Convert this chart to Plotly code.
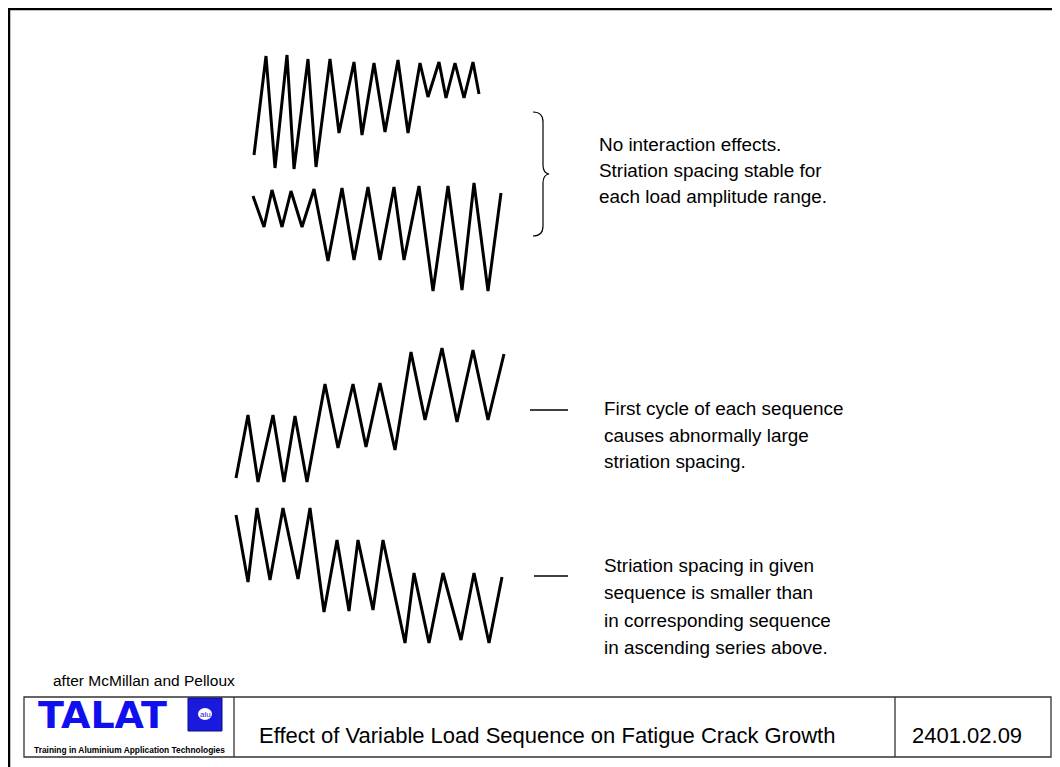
import math
import plotly.graph_objects as go

W, H = 1060, 767
OFF = 8  # the page body margin shifts the figure; axes are set so data = screen pixels

# zigzag vertices (screen pixels, y grows downward)
seq1_x = [254, 266, 275, 287, 294, 308, 316, 330, 339, 354, 362, 374, 385, 398, 408, 420, 428, 439, 446, 455, 464, 473, 479]
seq1_y = [155, 56, 168, 55, 169, 59, 167, 59, 133, 62, 135, 63, 132, 60, 133, 63, 97, 62, 98, 63, 98, 62, 94]

seq2_x = [253, 264, 272, 282, 291, 302, 314, 328, 342, 354, 368, 380, 394, 404, 419, 433, 448, 462, 474, 488, 501]
seq2_y = [196, 227, 190, 227, 191, 227, 189, 261, 188, 260, 187, 260, 187, 260, 186, 291, 186, 290, 183, 291, 193]

seq3_x = [236, 248, 258, 273, 284, 295, 307, 325, 338, 353, 366, 380, 395, 411, 425, 442, 457, 473, 488, 504]
seq3_y = [478, 415, 482, 415, 482, 416, 482, 384, 448, 384, 447, 383, 450, 352, 420, 348, 422, 350, 420, 354]

seq4_x = [236, 248, 257, 270, 283, 298, 310, 324, 337, 349, 358, 373, 383, 405, 414, 429, 443, 461, 474, 489, 502]
seq4_y = [515, 582, 508, 580, 508, 579, 508, 612, 540, 611, 540, 610, 540, 643, 573, 643, 573, 640, 573, 643, 577]

zigzags = [(seq1_x, seq1_y), (seq2_x, seq2_y), (seq3_x, seq3_y), (seq4_x, seq4_y)]

note1 = ["No interaction effects.", "Striation spacing stable for", "each load amplitude range."]
note1_y = [144, 170, 196]
note2 = ["First cycle of each sequence", "causes abnormally large", "striation spacing."]
note2_y = [408, 435, 461]
note3 = ["Striation spacing in given", "sequence is smaller than",
         "in corresponding sequence", "in ascending series above."]
note3_y = [565, 592, 620, 647]

fig = go.Figure()

for xs, ys in zigzags:
    fig.add_trace(go.Scatter(x=xs, y=ys, mode="lines",
                             line=dict(color="black", width=3),
                             hoverinfo="skip", showlegend=False))

# short marker dashes next to the lower two notes
fig.add_trace(go.Scatter(x=[530, 568], y=[410, 410], mode="lines",
                         line=dict(color="black", width=1.5), showlegend=False))
fig.add_trace(go.Scatter(x=[534, 568], y=[576, 576], mode="lines",
                         line=dict(color="black", width=1.5), showlegend=False))

# EU-style star ring on the logo
star_x = [205 + 11.5 * math.cos(2 * math.pi * k / 12) for k in range(12)]
star_y = [714 + 11.5 * math.sin(2 * math.pi * k / 12) for k in range(12)]

shapes = [
    # page frame
    dict(type="line", x0=8, x1=W + OFF, y0=9, y1=9, line=dict(color="black", width=2.5)),
    dict(type="line", x0=9, x1=9, y0=8, y1=H + OFF, line=dict(color="black", width=2.5)),
    # brace
    dict(type="path",
         path="M 533,112 Q 543,112 543,122 L 543,165 Q 543,173 549,174 "
              "Q 543,175 543,183 L 543,226 Q 543,236 533,236",
         line=dict(color="black", width=1.2)),
    # footer box
    dict(type="rect", x0=24, x1=1051, y0=697, y1=757, line=dict(color="#333", width=1.3)),
    dict(type="line", x0=234, x1=234, y0=697, y1=757, line=dict(color="#333", width=1.3)),
    dict(type="line", x0=895, x1=895, y0=697, y1=757, line=dict(color="#333", width=1.3)),
    # logo flag
    dict(type="rect", x0=188, x1=222, y0=698, y1=731, fillcolor="#1a1adc",
         line=dict(color="#0a0a80", width=1)),
    dict(type="circle", x0=198, x1=212, y0=708, y1=720, fillcolor="white",
         line=dict(width=0)),
]

fig.add_trace(go.Scatter(x=star_x, y=star_y, mode="markers",
                         marker=dict(symbol="star", size=5, color="#ffe000", line=dict(width=0)),
                         showlegend=False, hoverinfo="skip"))

annotations = []
for lines, ys, x0 in [(note1, note1_y, 597), (note2, note2_y, 602), (note3, note3_y, 602)]:
    for txt, y in zip(lines, ys):
        annotations.append(dict(x=x0, y=y, text=txt, showarrow=False, xanchor="left",
                                yanchor="middle", font=dict(size=18.9, color="black")))

annotations += [
    dict(x=51, y=680, text="after McMillan and Pelloux", showarrow=False, xanchor="left",
         yanchor="middle", font=dict(size=15.5, color="black")),
    dict(x=36, y=715, text="<b>TALAT</b>", showarrow=False,
         xanchor="left", yanchor="middle",
         font=dict(family="DejaVu Sans", size=38, color="#1010ee")),
    dict(x=205, y=714, text="alu", showarrow=False, font=dict(size=8, color="#1a1adc")),
    dict(x=129, y=750, text="<b>Training in Aluminium Application Technologies</b>",
         showarrow=False, font=dict(size=8.4, color="black")),
    dict(x=257, y=735, text="Effect of Variable Load Sequence on Fatigue Crack Growth",
         showarrow=False, xanchor="left", yanchor="middle", font=dict(size=22, color="black")),
    dict(x=967, y=735, text="2401.02.09", showarrow=False, xanchor="center",
         yanchor="middle", font=dict(size=22, color="black")),
]

fig.update_layout(
    width=W, height=H, autosize=False,
    margin=dict(l=0, r=0, t=0, b=0),
    paper_bgcolor="white", plot_bgcolor="white",
    font=dict(family="Liberation Sans, Arial, sans-serif"),
    xaxis=dict(range=[OFF, W + OFF], visible=False, fixedrange=True),
    yaxis=dict(range=[H + OFF, OFF], visible=False, fixedrange=True),
    shapes=shapes, annotations=annotations, showlegend=False,
)

fig.write_html("out.html")
